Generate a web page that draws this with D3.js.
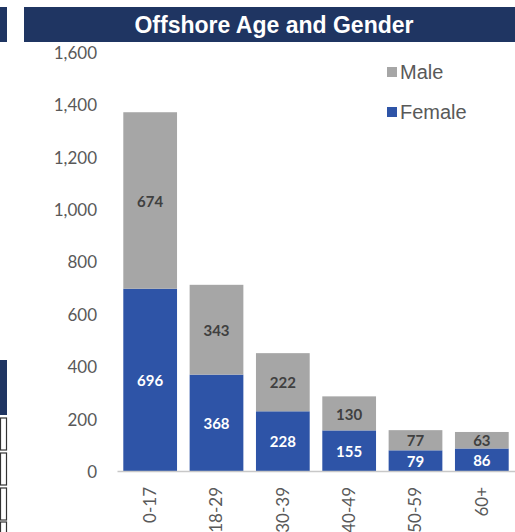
<!DOCTYPE html>
<html>
<head>
<meta charset="utf-8">
<script src="https://cdn.jsdelivr.net/npm/d3@7"></script>
<style>
  body { margin: 0; background: #fff; }
  svg { display: block; }
</style>
</head>
<body>
<svg id="chart" width="515" height="532"></svg>
<script>
var ageGroups = ["0-17", "18-29", "30-39", "40-49", "50-59", "60+"];
var femaleValues = [696, 368, 228, 155, 79, 86];
var maleValues = [674, 343, 222, 130, 77, 63];
var yTicks = [0, 200, 400, 600, 800, 1000, 1200, 1400, 1600];
var seriesNames = ["Male", "Female"];

var blue = "#2E54A7";
var grey = "#A6A6A6";
var navy = "#1F3562";

var svg = d3.select("#chart");
var width = +svg.attr("width");
var height = +svg.attr("height");

// pieces of neighbouring panels cut off at the left edge
svg.append("rect").attr("x", 0).attr("y", 7).attr("width", 7).attr("height", 35).attr("fill", navy);
svg.append("rect").attr("x", 0).attr("y", 360).attr("width", 7).attr("height", 55).attr("fill", navy);
[418, 453, 488, 522].forEach(function(y) {
  svg.append("rect").attr("x", 0.5).attr("y", y).attr("width", 6).attr("height", 32)
    .attr("fill", "#fff").attr("stroke", "#333").attr("stroke-width", 1.2);
});

// title bar
svg.append("rect")
  .attr("x", 24).attr("y", 7)
  .attr("width", width - 24).attr("height", 35)
  .attr("fill", navy);
svg.append("text")
  .attr("x", 274).attr("y", 25)
  .attr("dy", "0.35em")
  .attr("text-anchor", "middle")
  .attr("fill", "#fff")
  .style("font-family", "'Liberation Sans', Arial, sans-serif")
  .style("font-weight", "bold")
  .style("font-size", "23px")
  .text("Offshore Age and Gender");

var data = ageGroups.map(function(g, i) {
  return { group: g, Female: femaleValues[i], Male: maleValues[i] };
});

var x = d3.scaleBand()
  .domain(ageGroups)
  .range([117, 515])
  .paddingInner(0.19)
  .paddingOuter(0.095);

var y = d3.scaleLinear()
  .domain([0, 1600])
  .range([471, 52]);

var stack = d3.stack().keys(["Female", "Male"]);
var layers = stack(data);
var colors = { Female: blue, Male: grey };

var g = svg.append("g");
g.selectAll("g.layer")
  .data(layers)
  .enter()
  .append("g")
  .attr("class", "layer")
  .attr("fill", d => colors[d.key])
  .selectAll("rect")
  .data(d => d)
  .enter()
  .append("rect")
  .attr("x", d => x(d.data.group))
  .attr("width", x.bandwidth())
  .attr("y", d => y(d[1]))
  .attr("height", d => y(d[0]) - y(d[1]));

// data labels
layers.forEach(function(layer) {
  g.selectAll(null)
    .data(layer)
    .enter()
    .append("text")
    .attr("x", d => x(d.data.group) + x.bandwidth() / 2)
    .attr("y", d => (y(d[0]) + y(d[1])) / 2 + 1)
    .attr("dy", "0.35em")
    .attr("text-anchor", "middle")
    .attr("fill", layer.key === "Female" ? "#fff" : "#404040")
    .style("font-family", "Lato, 'Noto Sans', sans-serif")
    .style("font-weight", "bold")
    .style("font-size", "15px")
    .text(d => d.data[layer.key]);
});

// y axis
var yAxis = d3.axisLeft(y)
  .tickValues(yTicks)
  .tickSize(0)
  .tickPadding(0)
  .tickFormat(d3.format(","));
var ya = svg.append("g")
  .attr("transform", "translate(97,1)")
  .call(yAxis);
ya.select(".domain").remove();
ya.selectAll("text")
  .attr("fill", "#595959")
  .style("font-family", "Lato, 'Noto Sans', sans-serif")
  .style("font-size", "17px");

// x axis
var xAxis = d3.axisBottom(x).tickSize(0).tickPadding(0);
var xa = svg.append("g")
  .attr("transform", "translate(0,471)")
  .call(xAxis);
xa.select(".domain")
  .attr("stroke", "#c8c8c8")
  .attr("stroke-width", 1.5);
xa.selectAll("text")
  .attr("transform", "rotate(-90)")
  .attr("x", -16)
  .attr("y", 0)
  .attr("dy", "0.35em")
  .attr("text-anchor", "end")
  .attr("fill", "#595959")
  .style("font-family", "Lato, 'Noto Sans', sans-serif")
  .style("font-size", "17px");

// legend
var legend = svg.append("g");
seriesNames.forEach(function(name, i) {
  var ly = 72 + i * 40;
  legend.append("rect")
    .attr("x", 387).attr("y", ly - 5)
    .attr("width", 10).attr("height", 10)
    .attr("fill", colors[name]);
  legend.append("text")
    .attr("x", 400).attr("y", ly)
    .attr("dy", "0.35em")
    .attr("fill", "#595959")
    .style("font-family", "'Liberation Sans', Arial, sans-serif")
    .style("font-size", "20px")
    .text(name);
});
</script>
</body>
</html>
